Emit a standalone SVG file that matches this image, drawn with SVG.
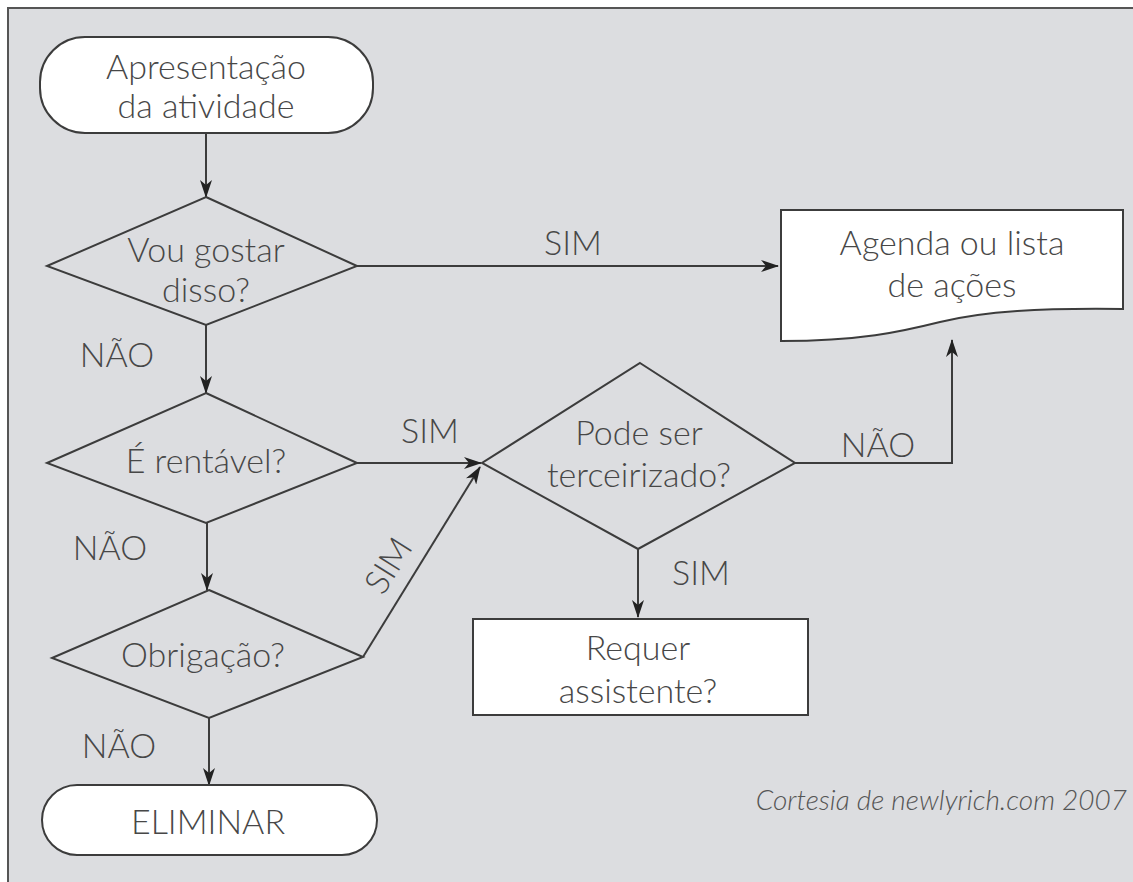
<svg xmlns="http://www.w3.org/2000/svg" width="1133" height="882" viewBox="0 0 1133 882">
<style>
.bg{fill:#dcdde0}
.frame{fill:none;stroke:#555;stroke-width:2}
.node{fill:#fff;stroke:#3c3c3c;stroke-width:2}
.dec{fill:none;stroke:#3c3c3c;stroke-width:2}
.t{font-family:Lato,"Liberation Sans",sans-serif;font-weight:300;font-size:34px;fill:#474747;text-anchor:middle}
.c{fill:none;stroke:#3c3c3c;stroke-width:2;marker-end:url(#ah)}
.foot{font-family:Lato,"Liberation Sans",sans-serif;font-weight:300;font-style:italic;font-size:28px;fill:#555;text-anchor:end}
</style>
<defs>
<marker id="ah" markerUnits="userSpaceOnUse" markerWidth="18" markerHeight="12" refX="17" refY="6" orient="auto">
<path d="M0,0 L18,6 L0,12 L5,6 Z" fill="#222"/>
</marker>
</defs>
<rect x="0" y="0" width="1133" height="882" fill="#fff"/>
<rect class="bg" x="8" y="8" width="1125" height="874"/>
<path class="frame" d="M8,882 V8 H1133"/>

<g id="connectors">
<path class="c" d="M206,133 V197"/>
<path class="c" d="M357,266 H778"/>
<path class="c" d="M206,325 V393"/>
<path class="c" d="M357,463 H481"/>
<path class="c" d="M363,657 L480,467"/>
<path class="c" d="M207,523 V590"/>
<path class="c" d="M209,718 V785"/>
<path class="c" d="M638,549 V617"/>
<path class="c" d="M795,463 H952 V340"/>
<text class="t" x="573" y="255">SIM</text>
<text class="t" x="117" y="367">NÃO</text>
<text class="t" x="430" y="443">SIM</text>
<text class="t" x="110" y="560">NÃO</text>
<text class="t" transform="translate(389,566) rotate(-58)" x="0" y="11">SIM</text>
<text class="t" x="119" y="758">NÃO</text>
<text class="t" x="701" y="585">SIM</text>
<text class="t" x="878" y="457">NÃO</text>
</g>

<g id="start">
<rect class="node" x="40" y="37" width="333" height="96" rx="45"/>
<text class="t" x="206" y="79">Apresentação</text>
<text class="t" x="206" y="118">da atividade</text>
</g>

<g id="d-gostar">
<polygon class="dec" points="206,197 357,266 206,325 47,266"/>
<text class="t" x="206" y="262">Vou gostar</text>
<text class="t" x="206" y="302">disso?</text>
</g>

<g id="d-rentavel">
<polygon class="dec" points="206,393 357,463 206,523 47,463"/>
<text class="t" x="206" y="473">É rentável?</text>
</g>

<g id="d-obrigacao">
<polygon class="dec" points="209,590 363,657 209,718 52,658"/>
<text class="t" x="203" y="667">Obrigação?</text>
</g>

<g id="eliminar">
<rect class="node" x="42" y="785" width="335" height="70" rx="35"/>
<text class="t" x="208" y="834">ELIMINAR</text>
</g>

<g id="d-terceirizado">
<polygon class="dec" points="640,363 795,463 638,549 482,463"/>
<text class="t" x="639" y="445">Pode ser</text>
<text class="t" x="639" y="487">terceirizado?</text>
</g>

<g id="requer">
<rect class="node" x="473" y="619" width="335" height="96"/>
<text class="t" x="638" y="660">Requer</text>
<text class="t" x="638" y="703">assistente?</text>
</g>

<g id="agenda">
<path class="node" d="M781,210 H1123 V309 C1040,308 985,311 940,322 C900,332 860,341 781,341 Z"/>
<text class="t" x="952" y="255">Agenda ou lista</text>
<text class="t" x="952" y="297">de ações</text>
</g>

<text class="foot" x="1127" y="810">Cortesia de newlyrich.com 2007</text>
</svg>
